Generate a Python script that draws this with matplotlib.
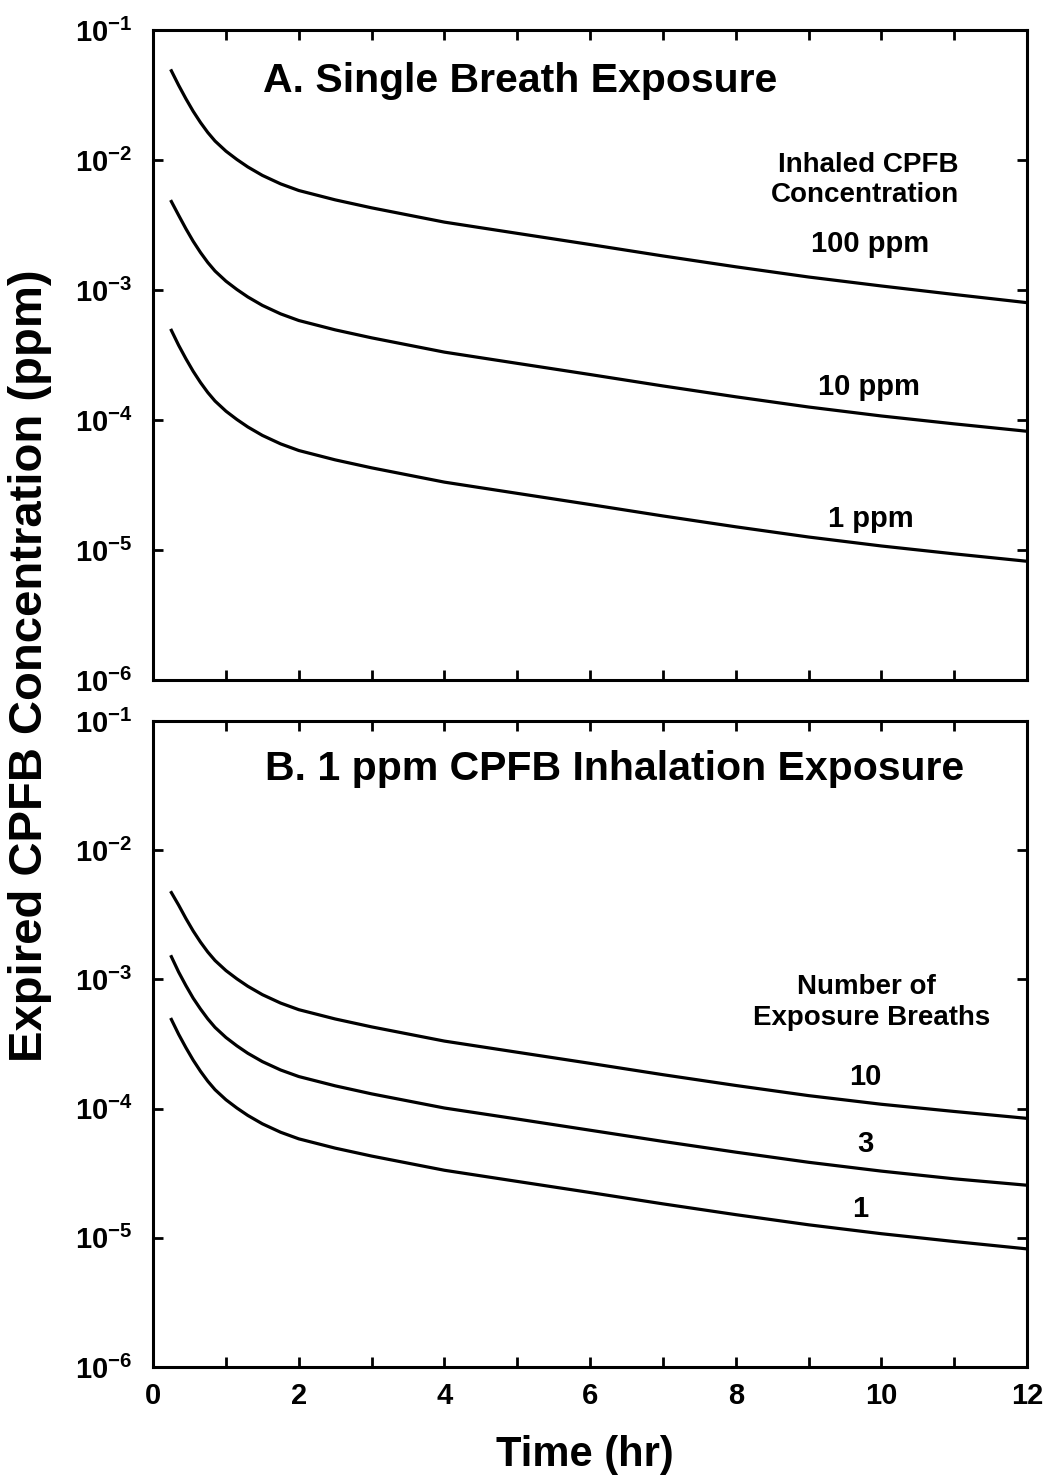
import math

import matplotlib
matplotlib.use("Agg")
import matplotlib.pyplot as plt
from matplotlib.ticker import FixedLocator, MultipleLocator, NullLocator, FuncFormatter

plt.rcParams["font.family"] = ["Liberation Sans", "DejaVu Sans"]
plt.rcParams["font.weight"] = "bold"
plt.rcParams["mathtext.fontset"] = "custom"
plt.rcParams["mathtext.rm"] = "Liberation Sans:bold"
plt.rcParams["mathtext.bf"] = "Liberation Sans:bold"
plt.rcParams["mathtext.it"] = "Liberation Sans:bold"

# time points (hr)
time_hr = [0.25, 0.35, 0.45, 0.55, 0.65, 0.75, 0.85, 1.0, 1.15, 1.3, 1.5, 1.75,
           2.0, 2.5, 3, 4, 5, 6, 7, 8, 9, 10, 11, 12]

# panel A: single breath, by inhaled concentration
single_100ppm = [4.86e-2, 3.76e-2, 2.96e-2, 2.37e-2, 1.945e-2, 1.63e-2, 1.40e-2, 1.17e-2,
                 1.01e-2, 8.85e-3, 7.62e-3, 6.56e-3, 5.83e-3, 4.94e-3, 4.29e-3, 3.33e-3,
                 2.73e-3, 2.24e-3, 1.83e-3, 1.51e-3, 1.26e-3, 1.075e-3, 9.25e-4, 8.0e-4]
single_10ppm = [4.8e-3, 3.76e-3, 2.96e-3, 2.37e-3, 1.945e-3, 1.63e-3, 1.40e-3, 1.17e-3,
                1.01e-3, 8.85e-4, 7.62e-4, 6.56e-4, 5.83e-4, 4.94e-4, 4.29e-4, 3.33e-4,
                2.73e-4, 2.24e-4, 1.83e-4, 1.51e-4, 1.26e-4, 1.075e-4, 9.35e-5, 8.2e-5]
single_1ppm = [4.9e-4, 3.76e-4, 2.96e-4, 2.37e-4, 1.945e-4, 1.63e-4, 1.40e-4, 1.17e-4,
               1.01e-4, 8.85e-5, 7.62e-5, 6.56e-5, 5.83e-5, 4.94e-5, 4.29e-5, 3.33e-5,
               2.73e-5, 2.24e-5, 1.83e-5, 1.51e-5, 1.26e-5, 1.075e-5, 9.35e-6, 8.2e-6]
single_labels = ["100 ppm", "10 ppm", "1 ppm"]

# panel B: 1 ppm, by number of exposure breaths
breaths_10 = [4.7e-3, 3.76e-3, 2.96e-3, 2.37e-3, 1.945e-3, 1.63e-3, 1.40e-3, 1.17e-3,
              1.01e-3, 8.85e-4, 7.62e-4, 6.56e-4, 5.83e-4, 4.94e-4, 4.29e-4, 3.33e-4,
              2.73e-4, 2.24e-4, 1.83e-4, 1.51e-4, 1.26e-4, 1.08e-4, 9.5e-5, 8.4e-5]
breaths_3 = [1.5e-3, 1.14e-3, 8.95e-4, 7.15e-4, 5.9e-4, 4.95e-4, 4.25e-4, 3.55e-4,
             3.06e-4, 2.68e-4, 2.31e-4, 1.99e-4, 1.77e-4, 1.50e-4, 1.30e-4, 1.01e-4,
             8.3e-5, 6.8e-5, 5.57e-5, 4.6e-5, 3.84e-5, 3.28e-5, 2.86e-5, 2.55e-5]
breaths_1 = [4.9e-4, 3.76e-4, 2.96e-4, 2.37e-4, 1.945e-4, 1.63e-4, 1.40e-4, 1.17e-4,
             1.01e-4, 8.85e-5, 7.62e-5, 6.56e-5, 5.83e-5, 4.94e-5, 4.29e-5, 3.33e-5,
             2.73e-5, 2.24e-5, 1.83e-5, 1.51e-5, 1.26e-5, 1.075e-5, 9.35e-6, 8.2e-6]
breath_labels = ["10", "3", "1"]

y_decades = [1e-6, 1e-5, 1e-4, 1e-3, 1e-2, 1e-1]


def _decade_label(v, pos):
    return r"$\mathbf{10^{%d}}$" % int(round(math.log10(v)))


def _style_axes(ax, show_xlabels):
    ax.set_yscale("log")
    ax.set_xlim(0, 12)
    ax.set_ylim(1e-6, 1e-1)
    ax.yaxis.set_major_locator(FixedLocator(y_decades))
    ax.yaxis.set_minor_locator(NullLocator())
    ax.yaxis.set_major_formatter(FuncFormatter(_decade_label))
    ax.xaxis.set_major_locator(MultipleLocator(2))
    ax.xaxis.set_minor_locator(MultipleLocator(1))
    ax.tick_params(which="both", direction="in", top=True, right=True,
                   length=7, width=2)
    ax.tick_params(axis="y", labelsize=21, pad=15)
    ax.tick_params(axis="x", labelsize=21, pad=11, labelbottom=show_xlabels)
    for sp in ax.spines.values():
        sp.set_linewidth(2.2)


def _note(ax, x, y, s, size):
    ax.text(x, y, s, transform=ax.transAxes, ha="center", va="baseline",
            fontsize=size, fontweight="bold")


fig = plt.figure(figsize=(10.49, 14.80), dpi=100)
ax_a = fig.add_axes([0.146, 0.5405, 0.833, 0.4392])
ax_b = fig.add_axes([0.146, 0.0764, 0.833, 0.4364])

for series in (single_100ppm, single_10ppm, single_1ppm):
    ax_a.plot(time_hr, series, color="black", lw=2.3)
for series in (breaths_10, breaths_3, breaths_1):
    ax_b.plot(time_hr, series, color="black", lw=2.3)

_style_axes(ax_a, False)
_style_axes(ax_b, True)

# panel A annotations
_note(ax_a, 0.420, 0.905, "A. Single Breath Exposure", 29.5)
_note(ax_a, 0.818, 0.781, "Inhaled CPFB", 20)
_note(ax_a, 0.815, 0.735, "Concentration", 20)
for label, yf, xf in zip(single_labels, [0.659, 0.438, 0.236], [0.820, 0.819, 0.821]):
    _note(ax_a, xf, yf, label, 21)

# panel B annotations
_note(ax_b, 0.528, 0.9087, "B. 1 ppm CPFB Inhalation Exposure", 29.5)
_note(ax_b, 0.816, 0.577, "Number of", 20)
_note(ax_b, 0.822, 0.530, "Exposure Breaths", 20)
for label, yf, xf in zip(breath_labels, [0.4365, 0.333, 0.2327], [0.815, 0.815, 0.809]):
    _note(ax_b, xf, yf, label, 21)

fig.text(0.029, 0.55, "Expired CPFB Concentration (ppm)", rotation=90,
         ha="center", va="center", fontsize=34, fontweight="bold")
fig.text(0.558, 0.017, "Time (hr)", ha="center", va="center",
         fontsize=30, fontweight="bold")

fig.savefig("out.png", dpi=100)
